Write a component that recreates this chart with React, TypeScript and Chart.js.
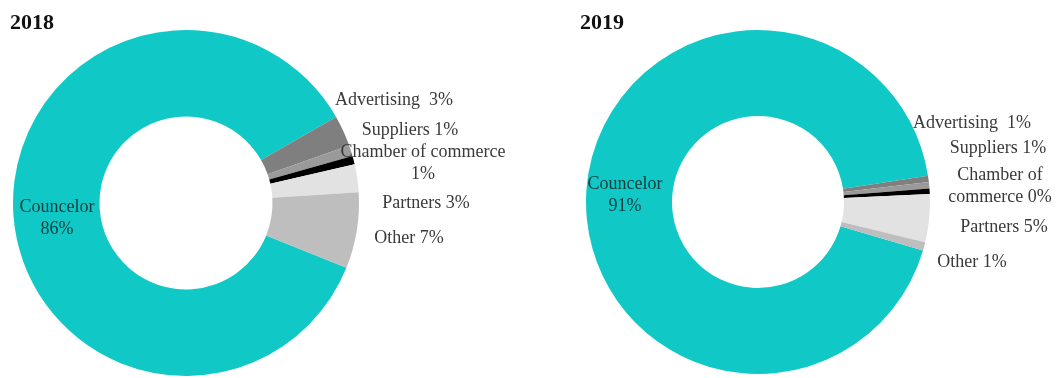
import React, { useEffect, useRef } from "react";
import { Chart, registerables } from "chart.js";

Chart.register(...registerables);

// ---- data ----
const categories = ["Councelor", "Advertising", "Suppliers", "Chamber of commerce", "Partners", "Other"];
const values2018 = [85.6, 2.9, 1.0, 0.8, 2.6, 7.1];
const values2019 = [93.0, 0.6, 0.6, 0.5, 4.5, 0.8];
const labels2018 = [["Councelor", "86%"], ["Advertising  3%"], ["Suppliers 1%"], ["Chamber of commerce", "1%"], ["Partners 3%"], ["Other 7%"]];
const labels2019 = [["Councelor", "91%"], ["Advertising  1%"], ["Suppliers 1%"], ["Chamber of", "commerce 0%"], ["Partners 5%"], ["Other 1%"]];
const titles = ["2018", "2019"];

// ---- styles / layout ----
const colors = ["#10C9C6", "#7F7F7F", "#9A9A9A", "#000000", "#E2E2E2", "#BEBEBE"];
const labelOffsets2018 = [[-129, 15], [208, -103], [224, -73], [237, -40], [240, 0], [223, 35]];
const labelOffsets2019 = [[-133, -7], [214, -79], [240, -54], [242, -16], [246, 25], [214, 60]];
const FONT = '"Liberation Serif", "Times New Roman", serif';

type PanelProps = {
  values: number[];
  labels: string[][];
  offsets: number[][];
  rotation: number;
  padding: { left: number; right: number; top: number; bottom: number };
};

function Doughnut({ values, labels, offsets, rotation, padding }: PanelProps) {
  const ref = useRef<HTMLCanvasElement | null>(null);
  useEffect(() => {
    if (!ref.current) return;
    const labelPlugin = {
      id: "sliceLabels",
      afterDraw(chart: any) {
        const arc = chart.getDatasetMeta(0).data[0];
        if (!arc) return;
        const cx = arc.x;
        const cy = arc.y;
        const ctx = chart.ctx;
        ctx.save();
        ctx.font = `18px ${FONT}`;
        ctx.textAlign = "center";
        ctx.textBaseline = "middle";
        labels.forEach((lines, i) => {
          const [dx, dy] = offsets[i];
          ctx.fillStyle = i === 0 ? "#143c3c" : "#3a3a3a";
          const lh = 22;
          const y0 = cy + dy - ((lines.length - 1) * lh) / 2;
          lines.forEach((t, j) => ctx.fillText(t, cx + dx, y0 + j * lh));
        });
        ctx.restore();
      },
    };
    const chart = new Chart(ref.current, {
      type: "doughnut",
      data: {
        labels: categories,
        datasets: [
          {
            data: values,
            backgroundColor: colors,
            borderWidth: 0,
          },
        ],
      },
      options: {
        animation: false,
        responsive: true,
        maintainAspectRatio: false,
        cutout: "50%",
        rotation,
        layout: { padding },
        plugins: {
          legend: { display: false },
          tooltip: { enabled: false },
          title: { display: false },
        },
      },
      plugins: [labelPlugin],
    });
    return () => chart.destroy();
  }, []);
  return <canvas ref={ref} />;
}

export default function App() {
  return (
    <div style={{ position: "fixed", left: 0, top: 0, width: 1056, height: 378, background: "#fff", overflow: "hidden" }}>
      <div style={{ position: "absolute", left: 0, top: 0, width: 528, height: 378 }}>
        <Doughnut
          values={values2018}
          labels={labels2018}
          offsets={labelOffsets2018}
          rotation={112}
          padding={{ left: 13, right: 169, top: 30, bottom: 2 }}
        />
      </div>
      <div style={{ position: "absolute", left: 528, top: 0, width: 528, height: 378 }}>
        <Doughnut
          values={values2019}
          labels={labels2019}
          offsets={labelOffsets2019}
          rotation={106.4}
          padding={{ left: 58, right: 126, top: 30, bottom: 4 }}
        />
      </div>
      <div style={{ position: "absolute", left: 10, top: 11, font: `bold 22px ${FONT}`, lineHeight: "22px", color: "#111" }}>
        {titles[0]}
      </div>
      <div style={{ position: "absolute", left: 580, top: 11, font: `bold 22px ${FONT}`, lineHeight: "22px", color: "#111" }}>
        {titles[1]}
      </div>
    </div>
  );
}
